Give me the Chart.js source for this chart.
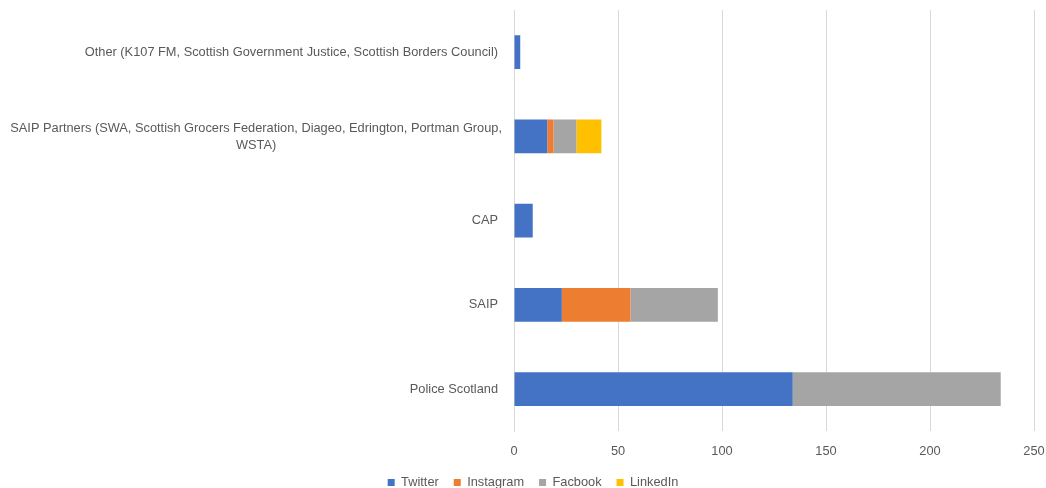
<!DOCTYPE html>
<html lang="en">
<head>
    <meta charset="UTF-8">
    <title>Posts by organisation and channel</title>
    <script src="https://cdn.jsdelivr.net/npm/chart.js"></script>
    <style>
        html, body { margin: 0; padding: 0; background: #fff; overflow: hidden; }
        #wrap { position: relative; width: 1046px; height: 499px; }
    </style>
</head>
<body>
    <div id="wrap"><canvas id="chart"></canvas></div>

    <script>
        // categories top to bottom, multi-line labels as arrays
        const categories = [
            ["Other (K107 FM, Scottish Government Justice, Scottish Borders Council)"],
            ["SAIP Partners (SWA, Scottish Grocers Federation, Diageo, Edrington, Portman Group,", "WSTA)"],
            ["CAP"],
            ["SAIP"],
            ["Police Scotland"]
        ];
        const twitter   = [3, 16, 9, 23, 134];
        const instagram = [null, 3, null, 33, null];
        const facebook  = [null, 11, null, 42, 100];
        const linkedin  = [null, 12, null, null, null];
        const xTicks = [0, 50, 100, 150, 200, 250];

        const textColor = "#595959";
        const gridColor = "#d9d9d9";
        const fontFamily = "'Liberation Sans', 'DejaVu Sans', sans-serif";
        const fontSize = 12.8;

        // y labels drawn by hand so wrapped lines can be centred like the original
        const yLabels = {
            id: "yLabels",
            afterLayout(chart) {
                // legend sits a bit right of centre in the original
                chart.legend.left += 16;
                chart.legend.right += 16;
            },
            afterDraw(chart) {
                const ctx = chart.ctx;
                const y = chart.scales.y;
                ctx.save();
                ctx.font = fontSize + "px " + fontFamily;
                ctx.fillStyle = textColor;
                ctx.textBaseline = "middle";
                const right = y.right - 16;
                const lineH = 17;
                categories.forEach((lines, i) => {
                    const py = y.getPixelForTick(i);
                    if (lines.length === 1) {
                        ctx.textAlign = "right";
                        ctx.fillText(lines[0], right, py);
                        return;
                    }
                    // wrapped label: block sits a little right, each line centred
                    const widest = Math.max(...lines.map(l => ctx.measureText(l).width));
                    ctx.textAlign = "center";
                    lines.forEach((line, j) => {
                        const ty = py + 1 + (j - (lines.length - 1) / 2) * lineH;
                        ctx.fillText(line, right + 4 - widest / 2, ty);
                    });
                });
                ctx.restore();
            }
        };

        new Chart(document.getElementById("chart"), {
            type: "bar",
            data: {
                labels: categories.map(c => c.join(" ")),
                datasets: [
                    { label: "Twitter",   data: twitter,   backgroundColor: "#4472c4" },
                    { label: "Instagram", data: instagram, backgroundColor: "#ed7d31" },
                    { label: "Facbook",   data: facebook,  backgroundColor: "#a5a5a5" },
                    { label: "LinkedIn",  data: linkedin,  backgroundColor: "#ffc000" }
                ]
            },
            options: {
                indexAxis: "y",
                responsive: true,
                maintainAspectRatio: false,
                animation: false,
                datasets: {
                    bar: { barPercentage: 0.8, categoryPercentage: 0.5, borderWidth: 0 }
                },
                layout: { padding: { top: 10, right: 12, left: 0, bottom: 0 } },
                plugins: {
                    tooltip: { enabled: false },
                    legend: {
                        position: "bottom",
                        labels: {
                            color: textColor,
                            font: { family: fontFamily, size: fontSize },
                            boxWidth: 7,
                            boxHeight: 7,
                            padding: 15
                        }
                    }
                },
                scales: {
                    x: {
                        stacked: true,
                        min: 0,
                        max: 250,
                        afterBuildTicks: scale => { scale.ticks = xTicks.map(v => ({ value: v })); },
                        afterFit: scale => {
                            scale.height = 30;
                            scale.paddingRight = 0;
                        },
                        ticks: {
                            color: textColor,
                            font: { family: fontFamily, size: fontSize },
                            padding: 13
                        },
                        grid: { color: gridColor, drawTicks: false },
                        border: { display: false }
                    },
                    y: {
                        stacked: true,
                        ticks: { display: false },
                        grid: { display: false },
                        border: { display: true, color: gridColor },
                        afterFit: scale => { scale.width = 514; }
                    }
                }
            },
            plugins: [yLabels]
        });
    </script>
</body>
</html>
